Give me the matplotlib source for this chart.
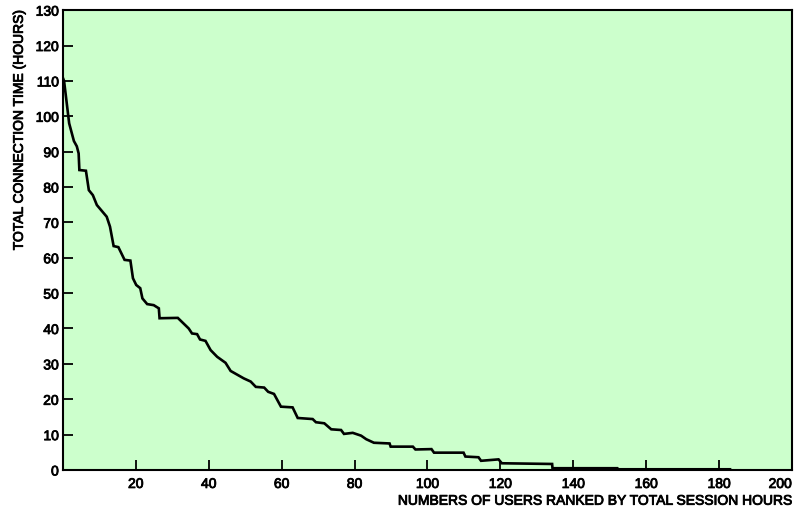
import matplotlib
matplotlib.use("Agg")
import matplotlib.pyplot as plt
import matplotlib.patheffects as pe

# Users ranked by total session hours (vertices of the ranked curve)
rank = [0, 0.3, 1.7, 3.0, 3.8, 4.3, 4.5, 6.3, 7.1, 8.2, 9.3, 12.0, 12.9, 13.9,
        15.2, 16.9, 18.5, 19.2, 20.1, 21.2, 21.8, 23.1, 24.9, 26.3, 26.5, 31.5,
        34.5, 35.4, 36.8, 37.6, 39.1, 40.5, 42.3, 44.6, 46.0, 49.6, 51.5, 52.9,
        55.2, 56.3, 57.9, 59.8, 63.0, 64.4, 68.5, 69.4, 71.7, 73.6, 76.3, 77.1,
        79.5, 81.8, 83.2, 85.3, 89.6, 89.9, 96.0, 96.7, 101.1, 101.8, 109.9,
        110.4, 114.0, 114.7, 119.5, 120.4, 134.2, 134.3, 152.1, 152.3, 183.0]
hours = [110.8, 110.0, 98.0, 93.0, 91.5, 89.5, 84.8, 84.6, 79.1, 77.7, 74.9,
         71.6, 68.8, 63.3, 63.0, 59.4, 59.2, 54.2, 52.3, 51.4, 48.5, 46.9, 46.6,
         45.7, 42.9, 43.0, 40.0, 38.6, 38.4, 36.9, 36.5, 33.9, 32.0, 30.3, 28.0,
         25.9, 25.0, 23.5, 23.3, 22.1, 21.5, 17.9, 17.7, 14.7, 14.4, 13.5, 13.2,
         11.5, 11.3, 10.2, 10.5, 9.7, 8.7, 7.7, 7.5, 6.6, 6.6, 5.8, 5.9, 4.9,
         4.9, 3.8, 3.6, 2.6, 3.0, 1.9, 1.7, 0.5, 0.5, 0.2, 0.2]

xticks = list(range(20, 201, 20))
yticks = list(range(0, 131, 10))

plt.rcParams["font.family"] = ["Liberation Sans", "DejaVu Sans"]

# slightly heavier strokes for all text
heavy = [pe.withStroke(linewidth=0.6, foreground="black")]

fig = plt.figure(figsize=(7.95, 5.07), dpi=100)
ax = fig.add_axes([0.0792, 0.073, 0.917, 0.907])
ax.set_facecolor("#ccffcc")

ax.plot(rank, hours, color="black", lw=1.9, solid_joinstyle="miter")

ax.set_xlim(0, 200)
ax.set_ylim(0, 130)
ax.set_xticks(xticks)
ax.set_yticks(yticks)
ax.tick_params(direction="in", length=7.5, width=1.3, labelsize=10,
               colors="black")
ax.tick_params(axis="x", pad=5)
ax.tick_params(axis="y", pad=3)
for s in ax.spines.values():
    s.set_linewidth(1.5)

xl = ax.set_xlabel("NUMBERS OF USERS RANKED BY TOTAL SESSION HOURS",
                   loc="right", fontsize=10, labelpad=2)
yl = ax.set_ylabel("TOTAL CONNECTION TIME (HOURS)", loc="top", fontsize=10,
                   labelpad=7)

fig.canvas.draw()
for t in ax.get_xticklabels() + ax.get_yticklabels() + [xl, yl]:
    t.set_path_effects(heavy)
# keep the last x label inside the figure edge
ax.get_xticklabels()[-1].set_horizontalalignment("right")

fig.savefig("out.png", dpi=100)
